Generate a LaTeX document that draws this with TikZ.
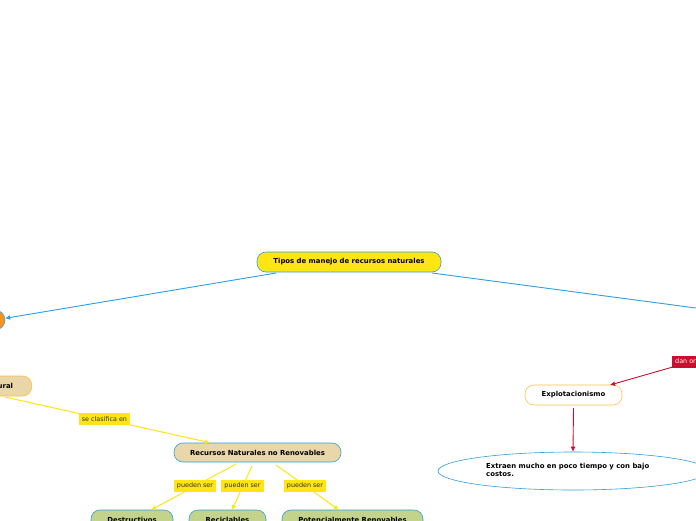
\documentclass[tikz,border=0pt]{standalone}
\usepackage{fontspec}
\setmainfont{DejaVu Sans}
\usetikzlibrary{shapes.geometric,arrows.meta}
\definecolor{cblue}{HTML}{2E9FE0}
\definecolor{cyel}{HTML}{FFE512}
\definecolor{ctan}{HTML}{E9D6A9}
\definecolor{cgreen}{HTML}{C3D38B}
\definecolor{corange}{HTML}{F7941D}
\definecolor{cobord}{HTML}{F9C24A}
\definecolor{cred}{HTML}{C8102E}
\tikzset{
  topic/.style={draw=cblue, line width=0.6pt, rounded corners=9pt, minimum height=20pt, inner xsep=16pt, font=\fontsize{6.9}{8}\selectfont\bfseries},
  lbl/.style={fill=cyel, inner xsep=3pt, inner ysep=2pt, minimum height=12pt, font=\fontsize{6.4}{7}\selectfont, text=black!80},
  yline/.style={draw=cyel, line width=1pt, -{Latex[length=5pt,width=5pt]}},
  bline/.style={draw=cblue, line width=0.9pt},
  rline/.style={draw=cred, line width=0.9pt, -{Latex[length=5pt,width=5pt]}},
}
\begin{document}
\begin{tikzpicture}[x=1pt,y=-1pt]
\clip (0,0) rectangle (696,520);
\fill[white] (0,0) rectangle (696,520);
% main
\node[topic, fill=cyel, minimum width=184pt] (main) at (349,262) {Tipos de manejo de recursos naturales};
% left off-canvas orange node
\node[circle, fill=corange, draw=cblue, line width=0.5pt, minimum size=20pt, inner sep=0pt] (left) at (-5,320) {};
\coordinate (right) at (760,316.5);
\draw[bline, -{Latex[length=5pt,width=5pt]}] (276,273) -- (left);
\draw[bline] (432,273) -- (right);
% recurso natural node (clipped)
\node[topic, fill=ctan, draw=cobord, anchor=east, minimum width=100pt] (rn) at (32,386) {Recurso Natural};
% no renovables
\node[topic, fill=ctan, minimum width=167pt, minimum height=19pt] (nr) at (257.5,452.5) {Recursos Naturales no Renovables};
\draw[yline] (5,397) -- node[lbl, pos=0.485] {se clasifica en} (nr.north -| 210,0);
% bottom nodes
\node[topic, fill=cgreen, minimum width=82pt] (des) at (132,520) {Destructivos};
\node[topic, fill=cgreen, minimum width=77pt] (rec) at (227.5,520) {Reciclables};
\node[topic, fill=cgreen, minimum width=141pt] (pot) at (352.5,520) {Potencialmente Renovables};
\draw[yline] (236,464) -- (151,510);
\draw[yline] (252,466) -- (232,510);
\draw[yline] (276,465) -- (339,510);
\node[lbl] (l1) at (195,486) {pueden ser};
\node[lbl] (l2) at (242.5,486) {pueden ser};
\node[lbl] (l3) at (305,486) {pueden ser};
% right side
\node[topic, fill=white, draw=cobord, minimum width=97pt] (exp) at (573.5,395) {Explotacionismo};
\coordinate (rsrc) at (760,342);
\draw[rline] (rsrc) -- (610,385);
\node[lbl, fill=cred, text=white, anchor=west] (dan) at (672,361.5) {dan origen a};
\node[ellipse, draw=cblue, line width=0.6pt, fill=white, minimum width=270pt, minimum height=38pt] (ell) at (573,471) {};
\node[anchor=north west, align=left, font=\fontsize{6.9}{8.5}\selectfont\bfseries, inner sep=0pt] (ext) at (486,463) {Extraen mucho en poco tiempo y con bajo\\costos.};
\draw[rline] (573.5,408) -- (ell.north);
\end{tikzpicture}
\end{document}
